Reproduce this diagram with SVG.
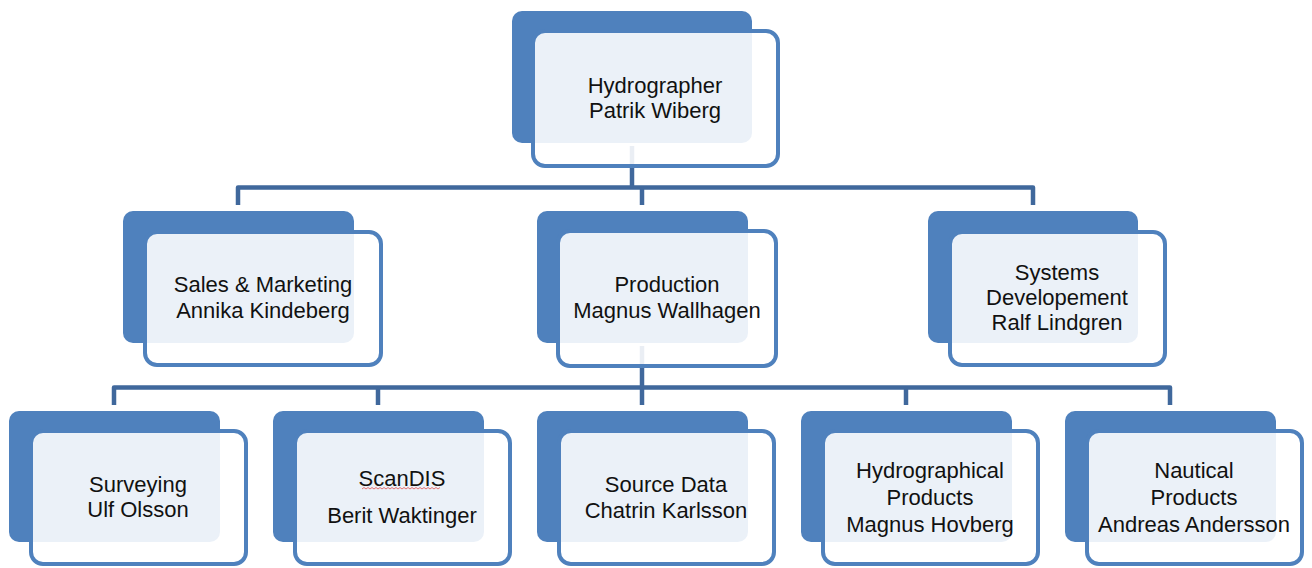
<svg xmlns="http://www.w3.org/2000/svg" width="1312" height="568" viewBox="0 0 1312 568">
  <style>
    .back { fill: #4F81BD; }
    .front { fill: #FFFFFF; fill-opacity: 0.89; stroke: #4F81BD; stroke-width: 4; }
    .link { fill: none; stroke: #40689C; stroke-width: 4.5; stroke-linejoin: round; }
    .label { font-family: "Liberation Sans", Arial, sans-serif; font-size: 22px; fill: #111111; text-anchor: middle; }
  </style>
  <rect width="1312" height="568" fill="#FFFFFF"/>

  <!-- connectors (drawn first so they show faintly through the boxes) -->
  <g id="connectors">
    <path class="link" d="M632,146 V187.5"/>
    <path class="link" d="M238,205 V187.5 H1033 V205"/>
    <path class="link" d="M642,187.5 V205"/>
    <path class="link" d="M642,346 V387.5"/>
    <path class="link" d="M114,405 V387.5 H1170 V405"/>
    <path class="link" d="M378,387.5 V405"/>
    <path class="link" d="M642,387.5 V405"/>
    <path class="link" d="M906,387.5 V405"/>
  </g>

  <!-- level 1 -->
  <g id="node-hydrographer">
    <rect class="back" x="512" y="11" width="240" height="132" rx="10"/>
    <rect class="front" x="533" y="31" width="245" height="135" rx="12"/>
    <text class="label" x="655" y="93">Hydrographer</text>
    <text class="label" x="655" y="118">Patrik Wiberg</text>
  </g>

  <!-- level 2 -->
  <g id="node-sales">
    <rect class="back" x="123" y="211" width="231" height="132" rx="10"/>
    <rect class="front" x="145" y="232" width="236" height="133" rx="12"/>
    <text class="label" x="263" y="292">Sales &amp; Marketing</text>
    <text class="label" x="263" y="318">Annika Kindeberg</text>
  </g>

  <g id="node-production">
    <rect class="back" x="537" y="211" width="211" height="132" rx="10"/>
    <rect class="front" x="558" y="231" width="218" height="135" rx="12"/>
    <text class="label" x="667" y="292">Production</text>
    <text class="label" x="667" y="318">Magnus Wallhagen</text>
  </g>

  <g id="node-systems">
    <rect class="back" x="928" y="211" width="210" height="132" rx="10"/>
    <rect class="front" x="950" y="232" width="215" height="133" rx="12"/>
    <text class="label" x="1057" y="280">Systems</text>
    <text class="label" x="1057" y="305">Developement</text>
    <text class="label" x="1057" y="330">Ralf Lindgren</text>
  </g>

  <!-- level 3 -->
  <g id="node-surveying">
    <rect class="back" x="9" y="411" width="211" height="131" rx="10"/>
    <rect class="front" x="31" y="431" width="215" height="133" rx="12"/>
    <text class="label" x="138" y="492">Surveying</text>
    <text class="label" x="138" y="517">Ulf Olsson</text>
  </g>

  <g id="node-scandis">
    <rect class="back" x="273" y="411" width="211" height="131" rx="10"/>
    <rect class="front" x="295" y="431" width="215" height="133" rx="12"/>
    <text class="label" x="402" y="486">ScanDIS</text>
    <path d="M362,489 l2,-1.5 l2,1.5 l2,-1.5 l2,1.5 l2,-1.5 l2,1.5 l2,-1.5 l2,1.5 l2,-1.5 l2,1.5 l2,-1.5 l2,1.5 l2,-1.5 l2,1.5 l2,-1.5 l2,1.5 l2,-1.5 l2,1.5 l2,-1.5 l2,1.5 l2,-1.5 l2,1.5 l2,-1.5 l2,1.5 l2,-1.5 l2,1.5 l2,-1.5 l2,1.5 l2,-1.5 l2,1.5 l2,-1.5 l2,1.5 l2,-1.5 l2,1.5 l2,-1.5 l2,1.5 l2,-1.5 l2,1.5 l2,-1.5" fill="none" stroke="#E05050" stroke-width="0.8"/>
    <text class="label" x="402" y="523">Berit Waktinger</text>
  </g>

  <g id="node-source-data">
    <rect class="back" x="537" y="411" width="211" height="131" rx="10"/>
    <rect class="front" x="559" y="431" width="215" height="133" rx="12"/>
    <text class="label" x="666" y="492">Source Data</text>
    <text class="label" x="666" y="518">Chatrin Karlsson</text>
  </g>

  <g id="node-hydrographical">
    <rect class="back" x="801" y="411" width="211" height="131" rx="10"/>
    <rect class="front" x="823" y="431" width="215" height="133" rx="12"/>
    <text class="label" x="930" y="478">Hydrographical</text>
    <text class="label" x="930" y="505">Products</text>
    <text class="label" x="930" y="532">Magnus Hovberg</text>
  </g>

  <g id="node-nautical">
    <rect class="back" x="1065" y="411" width="211" height="131" rx="10"/>
    <rect class="front" x="1087" y="431" width="215" height="133" rx="12"/>
    <text class="label" x="1194" y="478">Nautical</text>
    <text class="label" x="1194" y="505">Products</text>
    <text class="label" x="1194" y="532">Andreas Andersson</text>
  </g>
</svg>
